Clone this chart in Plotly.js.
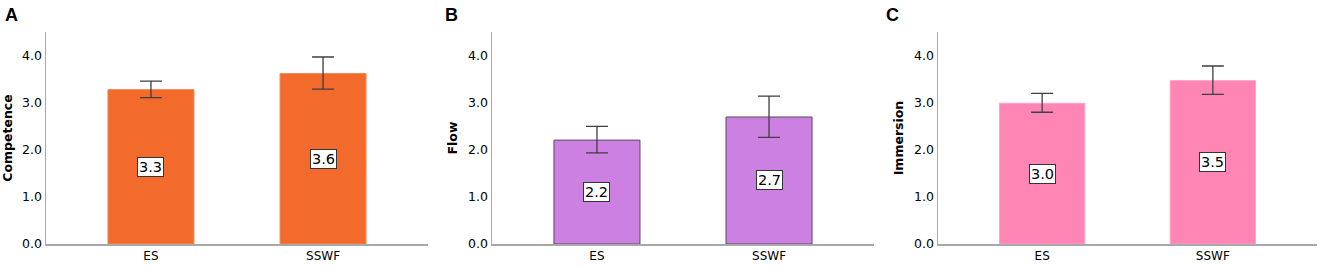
<!DOCTYPE html>
<html><head><meta charset="utf-8">
<script src="https://cdn.plot.ly/plotly-3.0.1.min.js"></script>
<style>html,body{margin:0;padding:0;background:#fff}#chart{width:1325px;height:267px}</style>
</head><body><div id="chart"></div>
<script>
const categories = ['ES', 'SSWF'];
const competence = [3.27, 3.61];
const competenceErrUp = [0.18, 0.35];
const competenceErrDown = [0.17, 0.33];
const flow = [2.20, 2.69];
const flowErrUp = [0.29, 0.44];
const flowErrDown = [0.27, 0.43];
const immersion = [2.98, 3.46];
const immersionErrUp = [0.21, 0.31];
const immersionErrDown = [0.19, 0.29];
const labelsA = ['3.3', '3.6'];
const labelsB = ['2.2', '2.7'];
const labelsC = ['3.0', '3.5'];
const panelNames = ['A', 'B', 'C'];
const yTitles = ['Competence', 'Flow', 'Immersion'];
const yTickVals = [0, 1, 2, 3, 4];
const yTickText = ['0.0', '1.0', '2.0', '3.0', '4.0'];

const panels = [
  {vals: competence, up: competenceErrUp, dn: competenceErrDown, labels: labelsA, fill: '#F26A2C', line: '#F5895A'},
  {vals: flow, up: flowErrUp, dn: flowErrDown, labels: labelsB, fill: '#CC80E2', line: '#5a4a5e'},
  {vals: immersion, up: immersionErrUp, dn: immersionErrDown, labels: labelsC, fill: '#FF86B4', line: '#FFA3C6'}
];
const xDomains = [[46/1325, 428/1325], [492/1325, 874/1325], [938/1325, 1317/1325]];
const yDomain = [23/267, 235/267];
const font = 'DejaVu Sans, Verdana, sans-serif';

const traces = [];
const layout = {
  width: 1325, height: 267,
  margin: {l: 0, r: 0, t: 0, b: 0},
  paper_bgcolor: '#fff', plot_bgcolor: '#fff',
  showlegend: false,
  font: {family: font, color: '#000'},
  annotations: []
};

panels.forEach((p, i) => {
  const sx = i === 0 ? '' : String(i + 1);
  traces.push({
    type: 'bar', x: categories, y: p.vals,
    xaxis: 'x' + sx, yaxis: 'y' + sx,
    width: 0.5,
    marker: {color: p.fill, line: {color: p.line, width: 1}},
    error_y: {type: 'data', symmetric: false, array: p.up, arrayminus: p.dn,
      color: '#3f3f3f', thickness: 1.3, width: 11},
    hoverinfo: 'skip'
  });
  layout['xaxis' + sx] = {
    domain: xDomains[i], anchor: 'y' + sx,
    range: [-0.61, 1.61], type: 'category',
    showline: true, linecolor: '#a8a8a8', linewidth: 1.5,
    showgrid: false, zeroline: false, ticks: '',
    tickfont: {size: 12, family: font, color: '#000'}
  };
  layout['yaxis' + sx] = {
    domain: yDomain, anchor: 'x' + sx,
    range: [0, 4.49],
    showline: true, linecolor: '#a8a8a8', linewidth: 1.5,
    showgrid: false, zeroline: false, ticks: '',
    tickvals: yTickVals, ticktext: yTickText,
    tickfont: {size: 12.5, family: font, color: '#000'},
    title: {text: '<b>' + yTitles[i] + '</b>', font: {size: 12.5, family: font, color: '#000'}, standoff: 7}
  };
  p.vals.forEach((v, j) => {
    layout.annotations.push({
      xref: 'x' + sx, yref: 'y' + sx, x: categories[j], y: v / 2,
      text: p.labels[j], showarrow: false,
      font: {size: 14.5, family: font, color: '#000'},
      bgcolor: '#fff', bordercolor: '#333', borderwidth: 1, borderpad: 1
    });
  });
  layout.annotations.push({
    xref: 'paper', yref: 'paper',
    x: [3, 443, 884][i] / 1325, y: 1 - 15 / 267,
    xanchor: 'left', yanchor: 'middle',
    text: '<b>' + panelNames[i] + '</b>', showarrow: false,
    font: {size: 18, family: 'Liberation Sans, Arial, sans-serif', color: '#000'}
  });
});

Plotly.newPlot('chart', traces, layout, {staticPlot: true});
</script>
</body></html>
